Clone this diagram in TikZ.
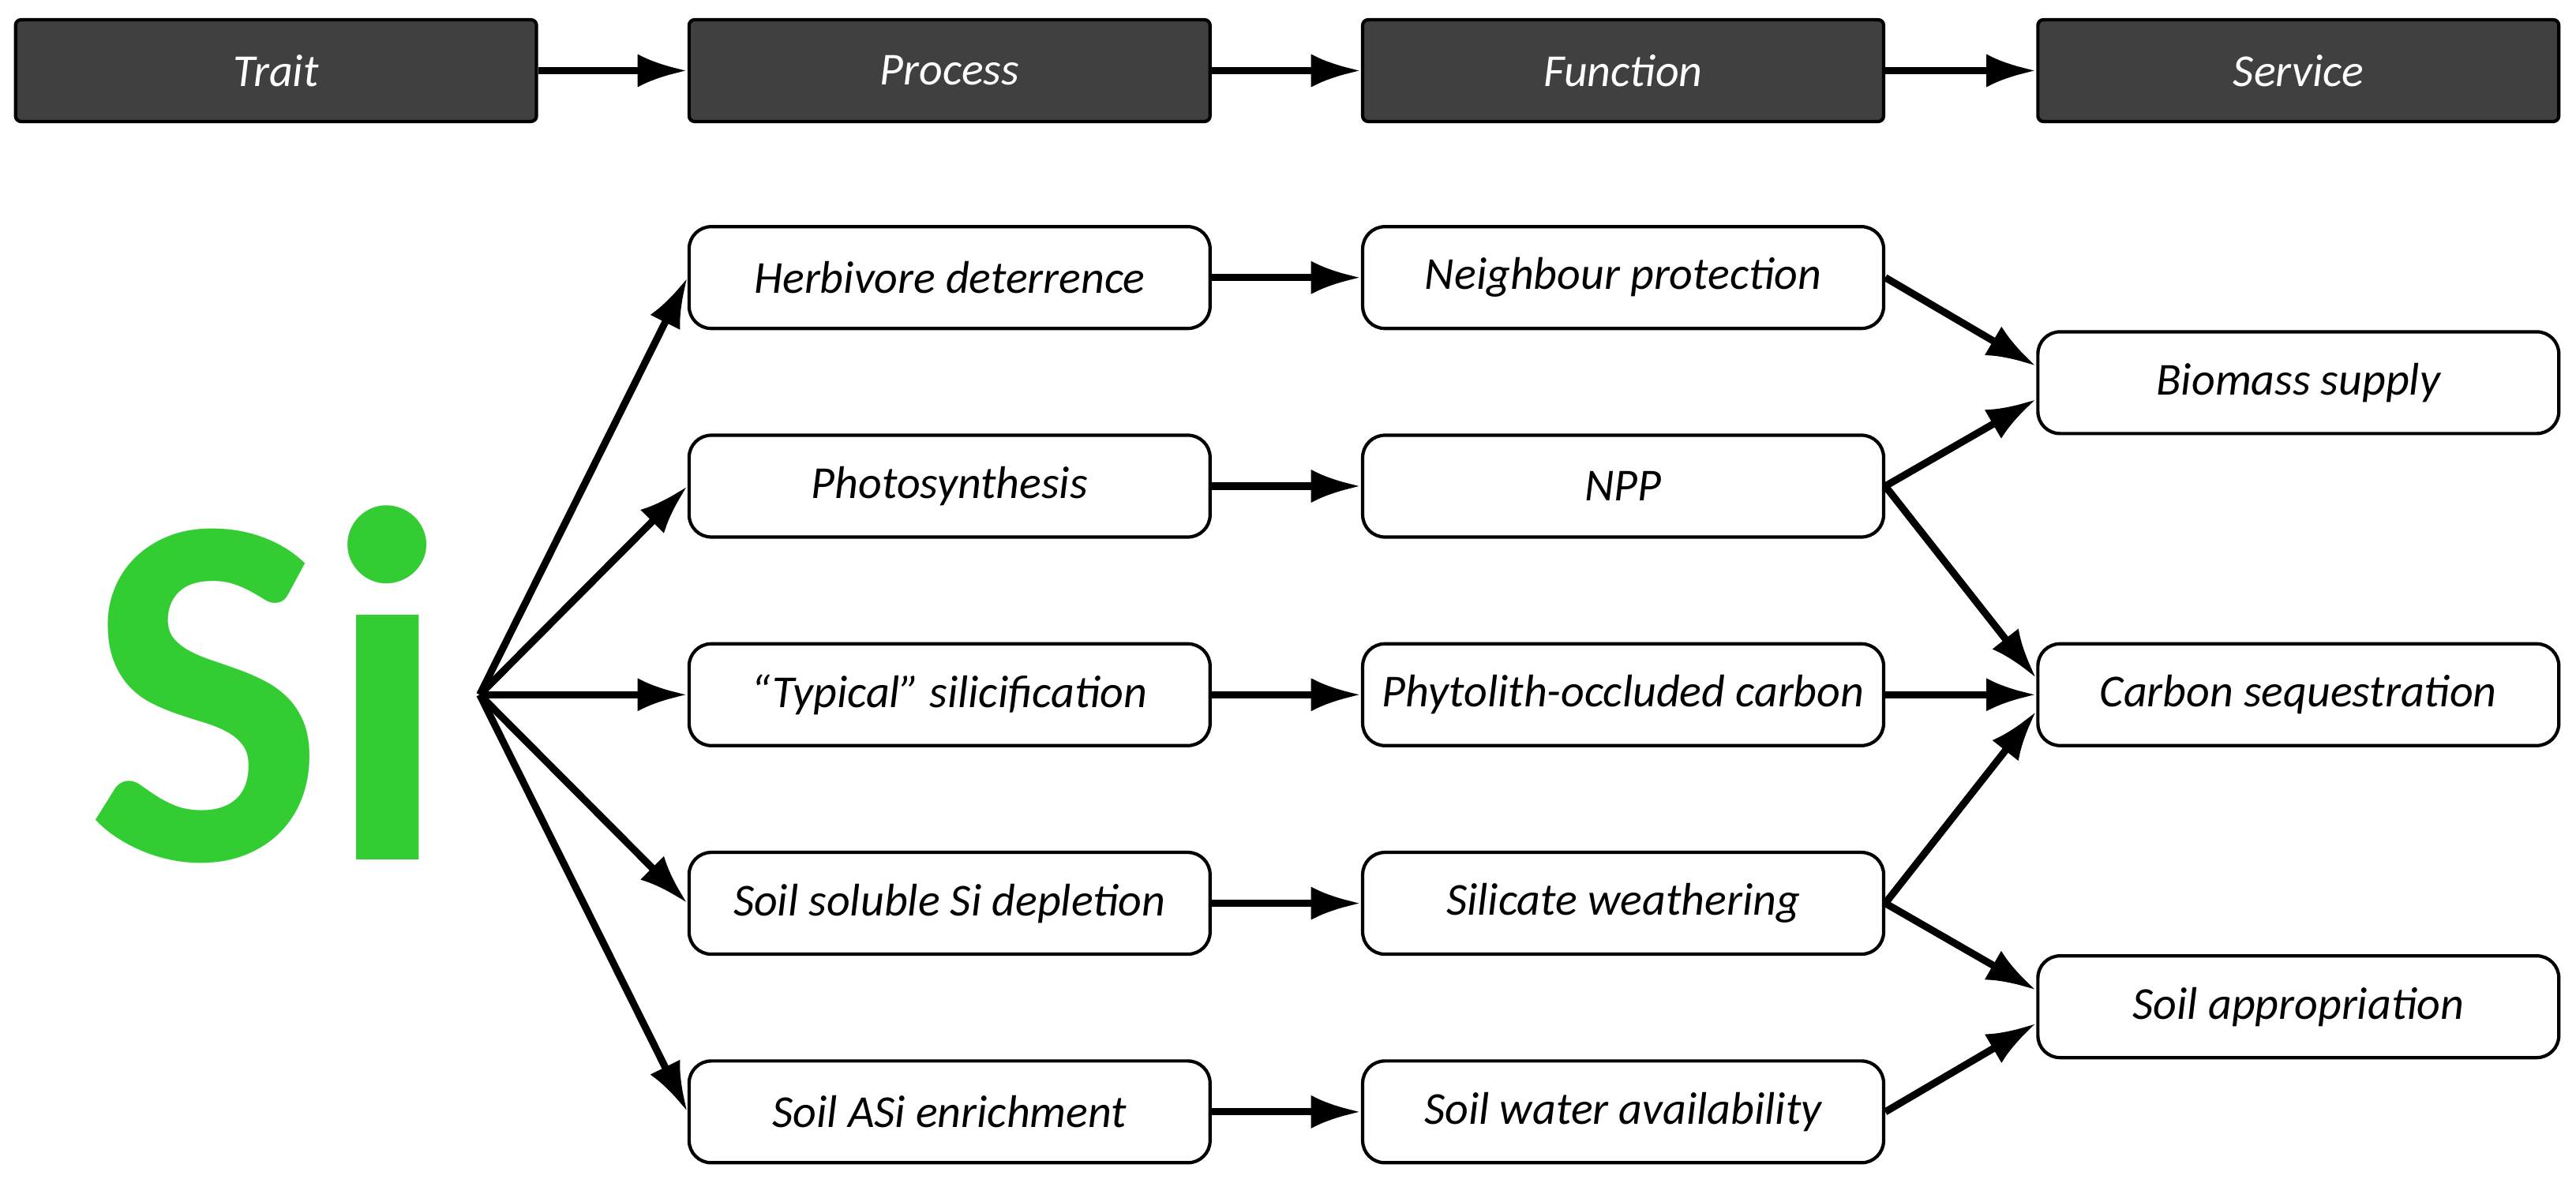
\documentclass[tikz,border=0pt]{standalone}
\usepackage{fontspec}
\setmainfont{Carlito}
\usetikzlibrary{arrows.meta}
\definecolor{sigreen}{RGB}{51,204,51}
\definecolor{headgray}{RGB}{64,64,64}
\tikzset{
  box/.style={draw, rounded corners=8pt, line width=1.2pt, minimum width=6.6cm, minimum height=1.29cm, inner xsep=2pt, font=\fontsize{16.5}{20}\selectfont\itshape},
  head/.style={box, rounded corners=2pt, fill=headgray, text=white},
  arr/.style={line width=2.6pt, -{Latex[length=18pt,width=12pt]}}
}
\begin{document}
\begin{tikzpicture}[x=0.02081cm, y=-0.02081cm]
        \useasboundingbox (0,0) rectangle (1568,720);
        \node[head] (trait) at (168,43) {Trait};
        \node[head] (process) at (578,43) {Process};
        \node[head] (function) at (988,43) {Function};
        \node[head] (service) at (1399,43) {Service};
        \draw[arr] (trait) -- (process);
        \draw[arr] (process) -- (function);
        \draw[arr] (function) -- (service);

        \node[text=sigreen, font=\fontsize{182}{182}\selectfont\bfseries, inner sep=0pt] (si) at (163,417) {Si};
        \coordinate (src) at (292,423);

        \node[box] (p1) at (578,169) {Herbivore deterrence};
        \node[box] (p2) at (578,296) {Photosynthesis};
        \node[box] (p3) at (578,423) {“Typical” silicification};
        \node[box] (p4) at (578,550) {Soil soluble Si depletion};
        \node[box] (p5) at (578,677) {Soil ASi enrichment};

        \node[box] (f1) at (988,169) {Neighbour protection};
        \node[box] (f2) at (988,296) {NPP};
        \node[box] (f3) at (988,423) {Phytolith-occluded carbon};
        \node[box] (f4) at (988,550) {Silicate weathering};
        \node[box] (f5) at (988,677) {Soil water availability};

        \node[box] (s1) at (1399,233) {Biomass supply};
        \node[box] (s2) at (1399,423) {Carbon sequestration};
        \node[box] (s3) at (1399,613) {Soil appropriation};

        \draw[arr] (src) -- (p1.west);
        \draw[arr] (src) -- (p2.west);
        \draw[arr] (src) -- (p3.west);
        \draw[arr] (src) -- (p4.west);
        \draw[arr] (src) -- (p5.west);

        \draw[arr] (p1) -- (f1);
        \draw[arr] (p2) -- (f2);
        \draw[arr] (p3) -- (f3);
        \draw[arr] (p4) -- (f4);
        \draw[arr] (p5) -- (f5);

        \draw[arr] (f1.east) -- ([yshift=0.21cm]s1.west);
        \draw[arr] (f2.east) -- ([yshift=-0.21cm]s1.west);
        \draw[arr] (f2.east) -- ([yshift=0.21cm]s2.west);
        \draw[arr] (f3.east) -- (s2.west);
        \draw[arr] (f4.east) -- ([yshift=-0.21cm]s2.west);
        \draw[arr] (f4.east) -- ([yshift=0.21cm]s3.west);
        \draw[arr] (f5.east) -- ([yshift=-0.21cm]s3.west);
\end{tikzpicture}
\end{document}
